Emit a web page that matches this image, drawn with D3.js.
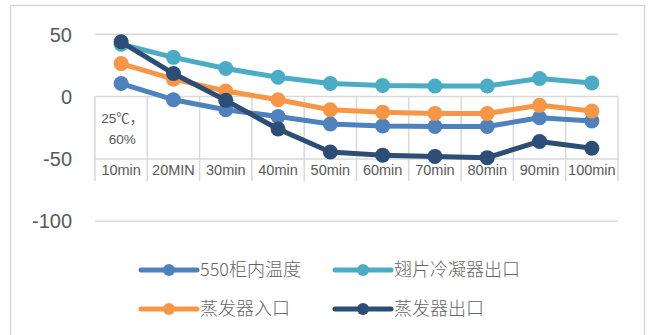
<!DOCTYPE html>
<html><head><meta charset="utf-8">
<script src="https://cdn.jsdelivr.net/npm/d3@7"></script>
<style>
html,body{margin:0;padding:0;background:#fff;}
svg{display:block;}
</style>
</head><body>
<svg id="chart" width="649" height="335"></svg>
<script>
const categories = ["10min","20MIN","30min","40min","50min","60min","70min","80min","90min","100min"];
const seriesNames = ["550柜内温度","翅片冷凝器出口","蒸发器入口","蒸发器出口"];
const cabinetTemp = [10.5, -2.5, -10.5, -16, -22, -23.5, -24, -24, -17, -19.5];
const finCondenserOut = [42, 31.5, 22.5, 15.5, 10.5, 9, 8.5, 8.5, 14.5, 11];
const evaporatorIn = [26.5, 14, 4.5, -2.5, -10.5, -12.5, -13.5, -13.5, -7, -11.5];
const evaporatorOut = [44, 18.5, -3, -26, -44.5, -47, -48, -49, -36, -41.5];
const yTicks = [50, 0, -50, -100];
const groupLabel = ["25℃，", "60%"];
const colors = ["#4F81BD", "#4BACC6", "#F79646", "#2C4D75"];

const series = [cabinetTemp, finCondenserOut, evaporatorIn, evaporatorOut];
const svg = d3.select("#chart");
const grid = "#d9d9d9", txt = "#595959";

// chart border
svg.append("rect").attr("x", 10.5).attr("y", 5.5).attr("width", 634).attr("height", 340)
  .attr("fill", "#fff").attr("stroke", grid).attr("stroke-width", 1.5);

const x = d3.scaleBand().domain(categories).range([95, 618]).padding(0);
const y = d3.scaleLinear().domain([-100, 50]).range([221.2, 34.3]);

// horizontal gridlines
svg.append("g").selectAll("line").data(yTicks).join("line")
  .attr("x1", 95).attr("x2", 618)
  .attr("y1", d => y(d)).attr("y2", d => y(d))
  .attr("stroke", grid).attr("stroke-width", 1.5);

// y tick labels
svg.append("g").selectAll("text").data(yTicks).join("text")
  .attr("x", 72).attr("y", d => y(d)).attr("dy", "0.36em")
  .attr("text-anchor", "end").attr("fill", txt)
  .style("font-family", "Liberation Sans, Arial, sans-serif").style("font-size", "20px")
  .text(d => d);

// category grid (vertical separators)
const bounds = categories.map(c => x(c)).concat([x.range()[1]]);
svg.append("g").selectAll("line").data(bounds).join("line")
  .attr("x1", d => d).attr("x2", d => d)
  .attr("y1", y(0)).attr("y2", 181)
  .attr("stroke", grid).attr("stroke-width", 1.5);

// category labels
svg.append("g").selectAll("text").data(categories).join("text")
  .attr("x", d => x(d) + x.bandwidth() / 2).attr("y", 170).attr("dy", "0.36em")
  .attr("text-anchor", "middle").attr("fill", txt)
  .style("font-family", "Liberation Sans, Arial, sans-serif").style("font-size", "14.5px")
  .text(d => d);

// group label in first cell
svg.append("g").selectAll("text").data(groupLabel).join("text")
  .attr("x", x(categories[0]) + x.bandwidth() / 2 + 1)
  .attr("y", (d, i) => 118 + i * 21).attr("dy", "0.36em")
  .attr("text-anchor", "middle").attr("fill", txt)
  .style("font-family", "Liberation Sans, Noto Sans CJK SC, sans-serif").style("font-size", "13.5px")
  .text(d => d);

// lines & markers
const line = d3.line().x((d, i) => x(categories[i]) + x.bandwidth() / 2).y(d => y(d));
series.forEach((s, k) => {
  const g = svg.append("g");
  g.append("path").datum(s).attr("d", line).attr("fill", "none")
    .attr("stroke", colors[k]).attr("stroke-width", 5)
    .attr("stroke-linejoin", "round").attr("stroke-linecap", "round");
  g.selectAll("circle").data(s).join("circle")
    .attr("cx", (d, i) => x(categories[i]) + x.bandwidth() / 2)
    .attr("cy", d => y(d)).attr("r", 7.5).attr("fill", colors[k]);
});

// legend
const legPos = [[141, 270], [335, 270], [141, 309], [335, 309]];
seriesNames.forEach((n, k) => {
  const [lx, ly] = legPos[k];
  const g = svg.append("g");
  g.append("line").attr("x1", lx).attr("x2", lx + 56).attr("y1", ly).attr("y2", ly)
    .attr("stroke", colors[k]).attr("stroke-width", 5).attr("stroke-linecap", "round");
  g.append("circle").attr("cx", lx + 28).attr("cy", ly).attr("r", 6).attr("fill", colors[k]);
  g.append("text").attr("x", lx + 59).attr("y", ly).attr("dy", "0.36em").attr("fill", "#666")
    .style("font-family", "Noto Sans CJK SC, sans-serif").style("font-size", "18px")
    .style("font-weight", 300)
    .text(n);
});
</script>
</body></html>
